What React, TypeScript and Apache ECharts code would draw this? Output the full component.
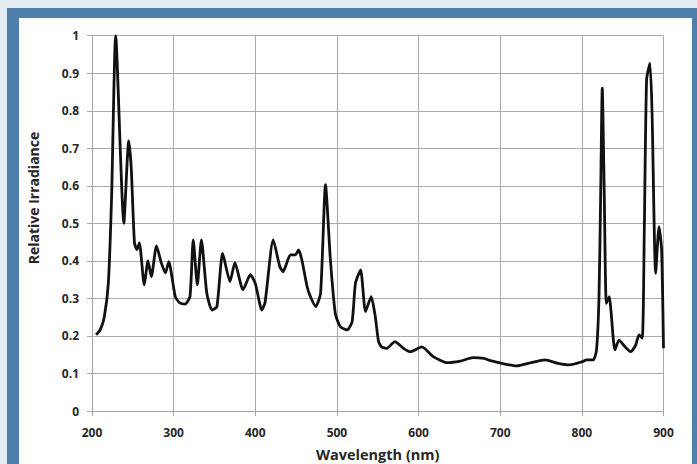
import React, { useEffect, useRef } from "react";
import * as echarts from "echarts";

const wavelengths = [
  205, 210, 215, 220, 224, 229, 239, 245, 248, 252, 255, 258, 264, 268.6, 272.7, 279, 285, 290, 294,
  302, 307.5, 314, 320, 324, 329, 334, 340.6, 347, 353, 360, 369, 375, 385, 394, 400, 408, 412, 422,
  430, 434, 437, 443, 449, 453, 457, 463.5, 467.5, 474, 480, 486, 492, 498, 504, 512.5, 518.6, 522.7,
  529, 535, 542, 547, 551, 555, 561, 571, 581.5, 590, 604, 618, 635, 651, 667, 680, 688, 702, 720, 738,
  755, 771, 785, 800, 806, 814, 818, 821, 823, 825, 827.5, 830, 833.6, 835.6, 840.5, 845.5, 853, 860,
  866, 870, 874, 876.5, 879.3, 883.4, 886, 890.4, 894.5, 897.7, 900,
];
const irradiance = [
  0.203, 0.216, 0.25, 0.34, 0.57, 1.0, 0.5, 0.72, 0.65, 0.448, 0.43, 0.448, 0.336, 0.4, 0.358, 0.44, 0.394,
  0.368, 0.398, 0.305, 0.288, 0.285, 0.305, 0.456, 0.336, 0.456, 0.314, 0.269, 0.278, 0.42, 0.345, 0.395,
  0.323, 0.363, 0.34, 0.269, 0.29, 0.456, 0.385, 0.371, 0.385, 0.416, 0.416, 0.429, 0.403, 0.331, 0.305,
  0.278, 0.314, 0.603, 0.403, 0.26, 0.225, 0.216, 0.238, 0.34, 0.376, 0.265, 0.305, 0.251, 0.185, 0.17,
  0.167, 0.185, 0.167, 0.158, 0.171, 0.145, 0.129, 0.133, 0.142, 0.14, 0.134, 0.127, 0.12, 0.129, 0.136,
  0.127, 0.123, 0.131, 0.136, 0.136, 0.163, 0.305, 0.571, 0.86, 0.571, 0.287, 0.305, 0.269, 0.163, 0.189,
  0.171, 0.158, 0.176, 0.203, 0.194, 0.483, 0.883, 0.927, 0.794, 0.367, 0.491, 0.429, 0.167,
];

const xTitle = "Wavelength (nm)";
const yTitle = "Relative Irradiance";

export default function App() {
  const ref = useRef<HTMLDivElement>(null);
  useEffect(() => {
    if (!ref.current) return;
    const chart = echarts.init(ref.current, undefined, { renderer: "svg" });
    const font = "'Open Sans', 'Liberation Sans', sans-serif";
    chart.setOption({
      animation: false,
      backgroundColor: "#e4ecf4",
      graphic: [
        { type: "rect", z: -10, shape: { x: 7, y: 8, width: 690, height: 456 }, style: { fill: "#4f7faa" } },
        { type: "rect", z: -9, shape: { x: 19, y: 18, width: 673, height: 446 }, style: { fill: "#ffffff" } },
        {
          type: "text",
          x: 33,
          y: 198,
          rotation: Math.PI / 2,
          style: {
            text: yTitle,
            fontFamily: font,
            fontWeight: "bold",
            fontSize: 14,
            fill: "#262626",
            align: "center",
            verticalAlign: "middle",
          },
        },
      ],
      grid: {
        left: 92,
        right: 33.5,
        top: 35.7,
        bottom: 53,
        containLabel: false,
        outerBoundsMode: "none",
      },
      xAxis: {
        type: "value",
        min: 200,
        max: 900,
        interval: 100,
        name: xTitle,
        nameLocation: "middle",
        nameGap: 36,
        nameTextStyle: { fontFamily: font, fontWeight: "bold", fontSize: 14.5, color: "#262626" },
        axisLine: { show: true, lineStyle: { color: "#a6a6a6", width: 1 } },
        axisTick: { show: true, length: 5, lineStyle: { color: "#a6a6a6" } },
        axisLabel: { margin: 15, fontFamily: font, fontWeight: "bold", fontSize: 12, color: "#262626" },
        splitLine: { show: true, lineStyle: { color: "#ababab", width: 1 } },
      },
      yAxis: {
        type: "value",
        min: 0,
        max: 1,
        interval: 0.1,
        axisLine: { show: true, lineStyle: { color: "#a6a6a6", width: 1 } },
        axisTick: { show: true, length: 5, lineStyle: { color: "#a6a6a6" } },
        axisLabel: { margin: 13, fontFamily: font, fontWeight: "bold", fontSize: 12, color: "#262626" },
        splitLine: { show: true, lineStyle: { color: "#ababab", width: 1 } },
      },
      series: [
        {
          type: "line",
          data: wavelengths.map((w, i) => [w, irradiance[i]]),
          showSymbol: false,
          smooth: 0.2,
          lineStyle: { color: "#111111", width: 2.8 },
        },
      ],
    });
    return () => chart.dispose();
  }, []);
  return (
    <div
      ref={ref}
      style={{ position: "fixed", left: 0, top: 0, width: 697, height: 464 }}
    />
  );
}
